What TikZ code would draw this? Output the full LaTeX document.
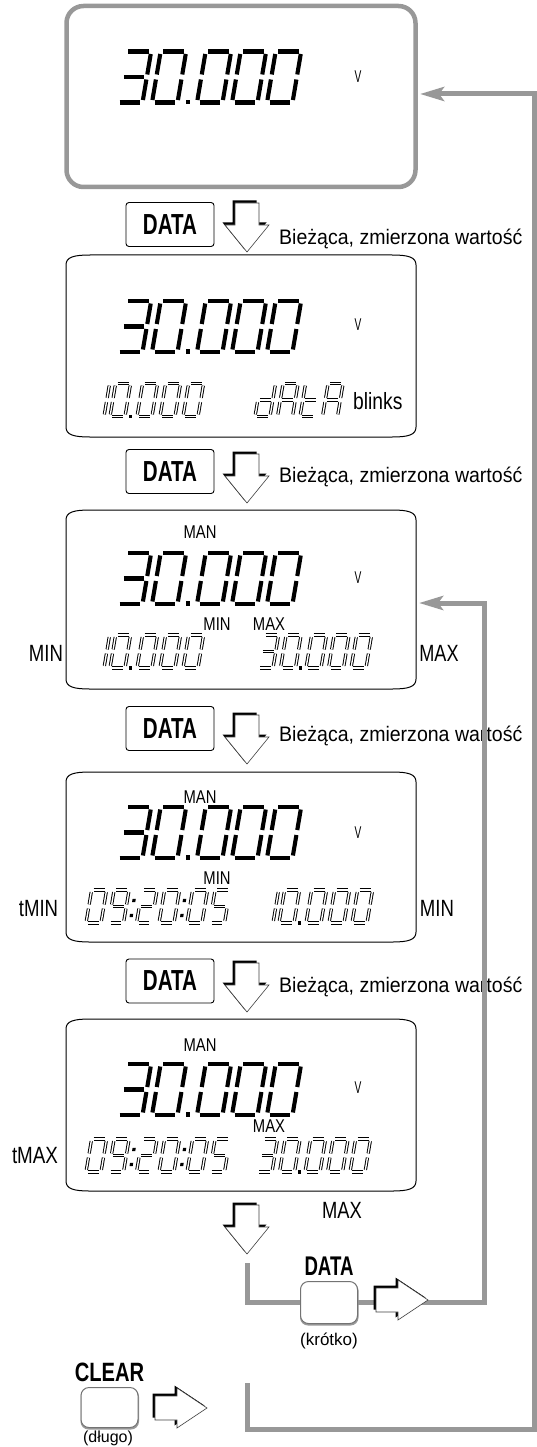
\documentclass[tikz,border=0pt]{standalone}
\usepackage{fontspec}
\setmainfont{Liberation Sans}
\usepackage{graphicx}
\usetikzlibrary{arrows.meta}
\definecolor{lgray}{RGB}{152,152,152}

\newcommand\lcdslant{0.17}
\newcommand\segA{\draw[lcdseg] (\lgap,\lH) -- ({\lW-\lgap},\lH);}
\newcommand\segB{\draw[lcdseg] (\lW,{\lH-\lgap}) -- (\lW,{\lH/2+\lgap});}
\newcommand\segC{\draw[lcdseg] (\lW,{\lH/2-\lgap}) -- (\lW,\lgap);}
\newcommand\segD{\draw[lcdseg] (\lgap,0) -- ({\lW-\lgap},0);}
\newcommand\segE{\draw[lcdseg] (0,\lgap) -- (0,{\lH/2-\lgap});}
\newcommand\segF{\draw[lcdseg] (0,{\lH/2+\lgap}) -- (0,{\lH-\lgap});}
\newcommand\segG{\draw[lcdseg] (\lgap,{\lH/2}) -- ({\lW-\lgap},{\lH/2});}
\newcommand\lcdzero{\segA\segB\segC\segD\segE\segF}
\newcommand\lcdthree{\segA\segB\segG\segC\segD}
\newcommand\lcdnine{\segA\segB\segC\segD\segF\segG}
\newcommand\lcdtwo{\segA\segB\segG\segE\segD}
\newcommand\lcdfive{\segA\segF\segG\segC\segD}
\newcommand\lcdd{\segB\segC\segD\segE\segG}
\newcommand\lcdA{\segA\segB\segC\segE\segF\segG}
\newcommand\lcdt{\segD\segE\segF\segG}
\newcommand\dig[2]{\begin{scope}[shift={(#1,\lbase)},xslant=\lcdslant]#2\end{scope}}
\newcommand\setbig[1]{\def\lbase{-#1}\def\lW{25.5}\def\lH{51}\def\lgap{2.5}\tikzset{lcdseg/.style={line width=4.1pt}}}
\newcommand\setsmall[1]{\def\lbase{-#1}\def\lW{15}\def\lH{33}\def\lgap{2.1}\tikzset{lcdseg/.style={line width=0.95pt,double=white,double distance=1.35pt}}}
\newcommand\sdot[1]{\fill ({#1-1.5},{\lbase-1.5}) rectangle ++(3.2,3.2);}
\newcommand\scolon[1]{\begin{scope}[shift={(#1,\lbase)},xslant=\lcdslant]\fill (-1.5,6) rectangle ++(3.2,3.2);\fill (-1.5,21) rectangle ++(3.2,3.2);\end{scope}}
\newcommand\bigthirty[1]{\setbig{#1}\dig{117}{\lcdthree}\dig{152}{\lcdzero}\fill (185.5,{-#1-2}) rectangle ++(4.8,4.8);\dig{197}{\lcdzero}\dig{232}{\lcdzero}\dig{267}{\lcdzero}}
\newcommand\tenrow[1]{\dig{#1}{\segE\segF}\dig{#1+6}{\lcdzero}\sdot{#1+26}\dig{#1+33}{\lcdzero}\dig{#1+56}{\lcdzero}\dig{#1+79}{\lcdzero}}
\newcommand\thirtyrow[1]{\dig{#1}{\lcdthree}\dig{#1+22.5}{\lcdzero}\sdot{#1+42}\dig{#1+48}{\lcdzero}\dig{#1+70.5}{\lcdzero}\dig{#1+93}{\lcdzero}}
\newcommand\timerow{\dig{86}{\lcdzero}\dig{108.5}{\lcdnine}\scolon{130}\dig{136.5}{\lcdtwo}\dig{159}{\lcdzero}\scolon{180.5}\dig{187}{\lcdzero}\dig{209.5}{\lcdfive}}

\newcommand\lcdbox[3]{%
 \draw[lcdframe] (66,{-(#2+10)}) .. controls (66,{-(#2+2)}) and (74,{-#2}) .. (90,{-#2}) -- (392,{-#2}) .. controls (408,{-#2}) and (416,{-(#2+2)}) .. (416,{-(#2+10)}) -- (416,{-(#3-10)}) .. controls (416,{-(#3-2)}) and (408,{-#3}) .. (392,{-#3}) -- (90,{-#3}) .. controls (74,{-#3}) and (66,{-(#3-2)}) .. (66,{-(#3-10)}) -- cycle;
 \coordinate (#1) at (241,{-(#2+#3)/2});}

\newcommand\pressdown[3]{%
 \coordinate (#1) at (#2,-#3);
 \begin{scope}[shift={(#1)}]
  \begin{scope}[shift={(-2.5,2.5)}]\fill (0,0) -- (22,27) -- (12,27) -- (12,49) -- (-12,49) -- (-12,27) -- (-22,27) -- cycle;\end{scope}
  \filldraw[fill=white,draw=black!75,line width=0.6pt] (0,0) -- (22,27) -- (12,27) -- (12,49) -- (-12,49) -- (-12,27) -- (-22,27) -- cycle;
 \end{scope}}
\newcommand\pressright[3]{%
 \coordinate (#1) at (#2,-#3);
 \begin{scope}[shift={(#1)}]
  \begin{scope}[shift={(-2.5,2.5)}]\fill (0,0) -- (-30,20) -- (-30,12) -- (-52,12) -- (-52,-12) -- (-30,-12) -- (-30,-20) -- cycle;\end{scope}
  \filldraw[fill=white,draw=black!75,line width=0.6pt] (0,0) -- (-30,20) -- (-30,12) -- (-52,12) -- (-52,-12) -- (-30,-12) -- (-30,-20) -- cycle;
 \end{scope}}
\newcommand\keybutton[4]{%
 \fill[black!40, rounded corners=8pt] ({#2-29},{-#3-#4/2-2}) rectangle ({#2+29.5},{-#3+#4/2-1});
 \node[draw=black!55, fill=white, line width=1pt, rounded corners=8pt, minimum width=57pt, minimum height=#4 pt, inner sep=0pt] (#1) at (#2,-#3) {};}
\newcommand\lab[3]{\scalebox{#2}[1]{\fontsize{#1}{#1}\selectfont #3}}

\begin{document}
\begin{tikzpicture}[x=1pt,y=1pt,
  gline/.style={draw=lgray, line width=5pt},
  lcdframe/.style={draw=black, line width=1pt},
  databox/.style={draw=black, line width=0.9pt, rounded corners=3pt, minimum width=88pt, minimum height=44pt, inner sep=0pt},
  lbl/.style={inner sep=0pt},
  garrow/.style={-{Stealth[length=24pt,width=14pt,inset=5pt]}}]
\useasboundingbox (0,0) rectangle (537,-1447);

% display 1
\node[draw=lgray, line width=4.5pt, rounded corners=17pt, minimum width=349pt, minimum height=181pt, inner sep=0pt] (d1) at (241,-96.5) {};
\bigthirty{102.5}
\node[lbl] (v1) at (358,-77) {\lab{17}{0.6}{V}};

% display 2
\lcdbox{d2}{255}{437}
\bigthirty{352}
\node[lbl] (v2) at (358,-325) {\lab{17}{0.6}{V}};
\setsmall{416.5}
\tenrow{104}
\dig{255}{\lcdd}\dig{277.5}{\lcdA}\dig{300}{\lcdt}\dig{322.5}{\lcdA}
\node[lbl,anchor=base west] (bl) at (353,-409) {\lab{23.5}{0.82}{blinks}};

% display 3
\lcdbox{d3}{510}{689}
\node[lbl] (man3) at (200,-532) {\lab{18.5}{0.8}{MAN}};
\bigthirty{604}
\node[lbl] (v3) at (358,-578) {\lab{17}{0.6}{V}};
\node[lbl] (mi3) at (217,-624) {\lab{18.5}{0.8}{MIN}};
\node[lbl] (ma3) at (269,-624) {\lab{18.5}{0.8}{MAX}};
\setsmall{668}
\tenrow{104}
\thirtyrow{258}
\node[lbl] (l3) at (46,-653) {\lab{23.5}{0.79}{MIN}};
\node[lbl] (r3) at (439,-653) {\lab{23.5}{0.77}{MAX}};

% display 4
\lcdbox{d4}{772}{942}
\node[lbl] (man4) at (200,-797) {\lab{18.5}{0.8}{MAN}};
\bigthirty{858}
\node[lbl] (v4) at (358,-833) {\lab{17}{0.6}{V}};
\node[lbl] (mi4) at (217,-878) {\lab{18.5}{0.8}{MIN}};
\setsmall{923}
\timerow
\tenrow{273}
\node[lbl] (l4) at (38.5,-908) {\lab{23.5}{0.79}{tMIN}};
\node[lbl] (r4) at (437,-908) {\lab{23.5}{0.79}{MIN}};

% display 5
\lcdbox{d5}{1019}{1191}
\node[lbl] (man5) at (200,-1045) {\lab{18.5}{0.8}{MAN}};
\bigthirty{1115}
\node[lbl] (v5) at (358,-1088) {\lab{17}{0.6}{V}};
\node[lbl] (ma5) at (269,-1126) {\lab{18.5}{0.8}{MAX}};
\setsmall{1172}
\timerow
\thirtyrow{257}
\node[lbl] (l5) at (35,-1155) {\lab{23.5}{0.8}{tMAX}};
\node[lbl] (b5) at (342,-1210) {\lab{23.5}{0.78}{MAX}};

% DATA steps
\foreach \n/\yc/\yt/\yb in {1/224.5/252/245, 2/471.5/503/482, 3/728.5/764/741, 4/981/1012/992}{
  \node[databox] (k\n) at (170,-\yc) {\lab{29}{0.71}{\bfseries DATA}};
  \pressdown{a\n}{247}{\yt}
  \node[lbl,anchor=base west] (t\n) at (279,-\yb) {\lab{21}{0.93}{Bieżąca, zmierzona wartość}};
}
\pressdown{a5}{247}{1254}

% grey connectors
\coordinate (p1) at (247,-1263);
\coordinate (p2) at (247,-1302);
\coordinate (p3) at (484,-1302);
\coordinate (p4) at (484,-603);
\coordinate (d3e) at (419,-603);
\draw[gline,garrow] (p1) -- (p2) -- (p3) -- (p4) -- (d3e);
\coordinate (q1) at (247,-1383);
\coordinate (q2) at (247,-1429);
\coordinate (q3) at (534,-1429);
\coordinate (q4) at (534,-94);
\coordinate (d1e) at (420,-94);
\draw[gline,garrow] (q1) -- (q2) -- (q3) -- (q4) -- (d1e);

% keys
\keybutton{kd}{329}{1302.5}{42}
\node[lbl] (kdl) at (329,-1266) {\lab{27}{0.69}{\bfseries DATA}};
\node[lbl] (kdk) at (329,-1341) {\lab{17}{1}{(krótko)}};
\pressright{ra}{428}{1300}
\keybutton{kc}{109.5}{1407.5}{40}
\node[lbl] (kcl) at (109.5,-1372) {\lab{26.5}{0.76}{\bfseries CLEAR}};
\node[lbl] (kcd) at (108,-1438) {\lab{16}{1}{(długo)}};
\pressright{rc}{207}{1408}
\end{tikzpicture}
\end{document}
